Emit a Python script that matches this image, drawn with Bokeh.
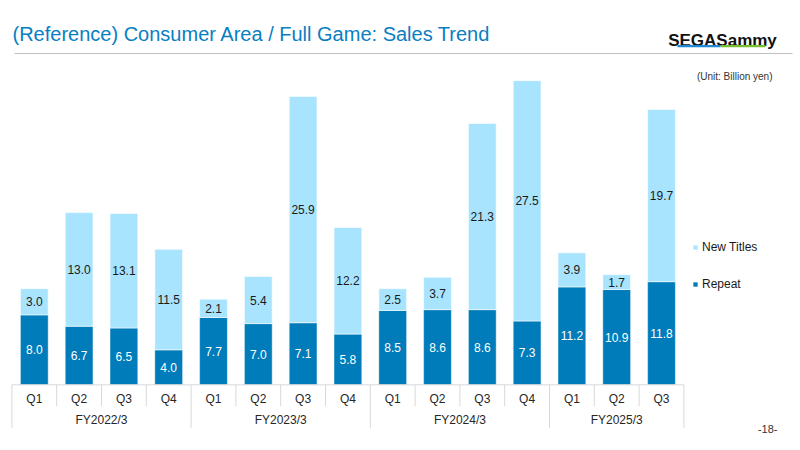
from bokeh.plotting import figure
from bokeh.models import Range1d, ColumnDataSource, Label, BoxAnnotation, Legend, LegendItem
from bokeh.core.properties import value
from bokeh.embed import file_html
from bokeh.resources import INLINE

# ---- data ----
quarters = ["Q1", "Q2", "Q3", "Q4", "Q1", "Q2", "Q3", "Q4",
            "Q1", "Q2", "Q3", "Q4", "Q1", "Q2", "Q3"]
fiscal_years = ["FY2022/3"] * 4 + ["FY2023/3"] * 4 + ["FY2024/3"] * 4 + ["FY2025/3"] * 3
repeat = [8.0, 6.7, 6.5, 4.0, 7.7, 7.0, 7.1, 5.8, 8.5, 8.6, 8.6, 7.3, 11.2, 10.9, 11.8]
new_titles = [3.0, 13.0, 13.1, 11.5, 2.1, 5.4, 25.9, 12.2, 2.5, 3.7, 21.3, 27.5, 3.9, 1.7, 19.7]
series_names = ["New Titles", "Repeat"]

# ---- layout / style ----
W, H = 800, 450
PX_X = 44.8      # px per category
X0_PX = 33.8     # px of first category centre
PX_Y = 8.74      # px per billion yen
BASE_PX = 384.3  # px of zero line from top
DARK = "#007CBA"
LIGHT = "#A9E4FF"
FONT = "Liberation Sans"
GRID = "#D9D9D9"

x_start = -X0_PX / PX_X
x_end = x_start + W / PX_X
y_end = BASE_PX / PX_Y
y_start = y_end - H / PX_Y

p = figure(width=W, height=H, x_range=Range1d(x_start, x_end), y_range=Range1d(y_start, y_end),
           output_backend="svg", toolbar_location=None, tools="", min_border=0,
           x_axis_location=None, y_axis_location=None)
p.outline_line_color = None
p.grid.visible = False
p.background_fill_color = "white"
p.border_fill_color = "white"

n = len(quarters)
idx = list(range(n))
totals = [r + t for r, t in zip(repeat, new_titles)]
src = ColumnDataSource(dict(
    x=idx, rep=repeat, new=new_titles, tot=totals,
    rep_mid=[r / 2 for r in repeat],
    new_mid=[r + t / 2 for r, t in zip(repeat, new_titles)],
    rep_lbl=[f"{v:.1f}" for v in repeat],
    new_lbl=[f"{v:.1f}" for v in new_titles],
))

BW = 0.62
r_rep = p.vbar(x="x", bottom=0, top="rep", width=BW, fill_color=DARK,
               line_color="white", line_alpha=0.45, line_width=1, source=src)
r_new = p.vbar(x="x", bottom="rep", top="tot", width=BW, fill_color=LIGHT,
               line_color="white", line_alpha=0.6, line_width=1, source=src)

p.text(x="x", y="rep_mid", text="rep_lbl", source=src, text_align="center",
       text_baseline="middle", text_color="white", text_font=value(FONT), text_font_size="12px")
p.text(x="x", y="new_mid", text="new_lbl", source=src, text_align="center",
       text_baseline="middle", text_color="#1A1A1A", text_font=value(FONT), text_font_size="12px")

# ---- category table axis ----
q_depth = -21.5 / PX_Y
g_depth = -43.0 / PX_Y
p.segment(x0=[-0.5], x1=[n - 0.5], y0=[0], y1=[0], line_color=GRID, line_width=1)
q_bounds, g_bounds = [], [-0.5]
for i in range(1, n):
    if fiscal_years[i] != fiscal_years[i - 1]:
        g_bounds.append(i - 0.5)
    else:
        q_bounds.append(i - 0.5)
g_bounds.append(n - 0.5)
p.segment(x0=q_bounds, x1=q_bounds, y0=[0] * len(q_bounds), y1=[q_depth] * len(q_bounds),
          line_color=GRID, line_width=1)
p.segment(x0=g_bounds, x1=g_bounds, y0=[0] * len(g_bounds), y1=[g_depth] * len(g_bounds),
          line_color=GRID, line_width=1)

p.text(x=idx, y=[-14.0 / PX_Y] * n, text=quarters, text_align="center", text_baseline="middle",
       text_color="#262626", text_font=value(FONT), text_font_size="12px")
groups = []
for fy in fiscal_years:
    if fy not in groups:
        groups.append(fy)
g_centers = [sum(i for i in idx if fiscal_years[i] == g) / fiscal_years.count(g) for g in groups]
p.text(x=g_centers, y=[-35.5 / PX_Y] * len(groups), text=groups, text_align="center",
       text_baseline="middle", text_color="#262626", text_font=value(FONT), text_font_size="12px")

# ---- legend ----
legend = Legend(items=[LegendItem(label=series_names[0], renderers=[r_new]),
                       LegendItem(label=series_names[1], renderers=[r_rep])],
                location=(692, H - 291), orientation="vertical",
                glyph_width=6, glyph_height=6, label_standoff=4, label_height=12,
                spacing=23, padding=0, margin=0, border_line_color=None,
                background_fill_alpha=0, label_text_font=FONT, label_text_font_size="12px",
                label_text_color="#1A1A1A")
p.add_layout(legend)

# ---- header / decorations ----
p.add_layout(Label(x=12, y=H - 33, x_units="screen", y_units="screen",
                   text="(Reference) Consumer Area / Full Game: Sales Trend",
                   text_font=FONT, text_font_size="20px", text_color="#0A7EC2",
                   text_baseline="middle", text_align="left"))
p.add_layout(BoxAnnotation(left=14, right=792, bottom=H - 53.6, top=H - 52.4,
                           left_units="screen", right_units="screen",
                           bottom_units="screen", top_units="screen",
                           fill_color="#BFBFBF", fill_alpha=1, line_alpha=0))
p.add_layout(Label(x=722, y=H - 40, x_units="screen", y_units="screen", text="SEGASammy",
                   text_font=FONT, text_font_size="17px", text_font_style="bold",
                   text_color="#111111", text_align="center", text_baseline="alphabetic"))
p.add_layout(BoxAnnotation(left=677, right=720, bottom=H - 46.8, top=H - 44.4,
                           left_units="screen", right_units="screen",
                           bottom_units="screen", top_units="screen",
                           fill_color="#1E87D6", fill_alpha=1, line_alpha=0))
p.add_layout(BoxAnnotation(left=720, right=765, bottom=H - 46.8, top=H - 44.4,
                           left_units="screen", right_units="screen",
                           bottom_units="screen", top_units="screen",
                           fill_color="#78BE33", fill_alpha=1, line_alpha=0))
p.add_layout(Label(x=772, y=H - 75.5, x_units="screen", y_units="screen",
                   text="(Unit: Billion yen)", text_font=FONT, text_font_size="10px",
                   text_color="#333333", text_align="right", text_baseline="middle"))
p.add_layout(Label(x=777, y=H - 428, x_units="screen", y_units="screen", text="-18-",
                   text_font=FONT, text_font_size="11px", text_color="#333333",
                   text_align="right", text_baseline="middle"))

open("out.html", "w").write(file_html(p, INLINE))
